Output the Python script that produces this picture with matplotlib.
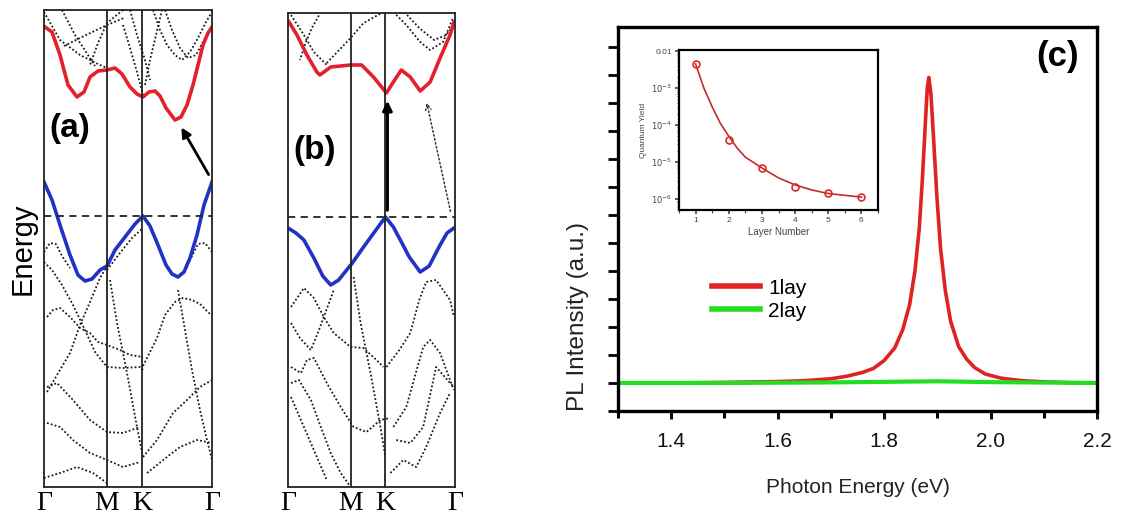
import matplotlib.pyplot as plt
from matplotlib.ticker import MultipleLocator, FixedLocator, NullFormatter, LogLocator

plt.rcParams['font.family'] = ['Liberation Sans', 'DejaVu Sans']

# k-path: Gamma, M, K, Gamma (arbitrary path units)
kpts = [0, 63, 98, 168]
klabels = ['Γ', 'M', 'K', 'Γ']

# ---------- (a) bulk band structure (energy in arb. units, VBM = 0)
ka_cb = [1, 8, 16, 24, 33, 40, 46, 54, 63, 71, 78, 86, 93, 99, 105, 111, 116, 122, 131, 137, 143, 149, 154, 159, 164, 168]
Ea_cb = [189, 184, 161, 131, 119, 124, 139, 145, 146, 148, 142, 129, 122, 119, 124, 125, 120, 108, 96, 99, 111, 131, 151, 171, 183, 189]
ka_vb = [0, 8, 16, 26, 34, 41, 48, 56, 63, 71, 81, 91, 99, 106, 114, 122, 128, 134, 140, 146, 153, 160, 168]
Ea_vb = [34, 16, -9, -39, -59, -65, -63, -54, -50, -34, -21, -8, 0, -10, -29, -49, -58, -61, -56, -42, -19, 11, 34]
dots_a = [
    ([0, 16, 36, 56, 63], [204, 176, 161, 151, 148]),
    ([18, 31, 44, 51], [206, 181, 161, 150]),
    ([79, 63, 54, 46], [206, 193, 173, 151]),
    ([79, 86, 93, 99], [191, 168, 144, 121]),
    ([20, 40, 63, 80], [170, 180, 191, 198]),
    ([109, 116, 123, 131, 138, 146, 154, 162, 168], [206, 186, 171, 161, 156, 164, 178, 194, 204]),
    ([101, 106, 112, 118], [131, 156, 181, 206]),
    ([121, 128, 136, 144, 152, 160, 168], [206, 186, 168, 158, 161, 176, 188]),
    ([86, 93, 101, 106], [206, 181, 156, 136]),
    ([0, 6, 12, 18, 26], [-36, -27, -28, -40, -52]),
    ([168, 161, 154, 148, 142], [-36, -27, -28, -40, -52]),
    ([63, 76, 88, 99], [-54, -37, -22, -12]),
    ([3, 9, 16, 26, 36, 46, 54, 63, 76, 86, 99], [-101, -94, -92, -101, -112, -117, -126, -129, -134, -139, -141]),
    ([99, 106, 113, 121, 131, 139, 148, 156, 168], [-150, -136, -122, -99, -86, -82, -84, -88, -100]),
    ([3, 16, 26, 36, 46, 56, 63], [-176, -154, -137, -109, -86, -62, -50]),
    ([0, 8, 18, 29, 41, 51, 63, 79, 96, 99], [-46, -54, -69, -89, -114, -136, -151, -152, -151, -154]),
    ([3, 13, 29, 46, 63, 79, 96], [-171, -167, -184, -204, -216, -217, -211]),
    ([66, 73, 83, 93, 99], [-64, -107, -157, -211, -241]),
    ([99, 113, 129, 143, 156, 168], [-241, -224, -197, -184, -171, -164]),
    ([3, 16, 29, 46, 63, 79, 96], [-207, -211, -224, -237, -244, -251, -246]),
    ([0, 16, 33, 49, 63], [-262, -257, -251, -257, -267]),
    ([103, 123, 136, 153, 168], [-257, -241, -231, -224, -227]),
    ([134, 141, 148, 156, 163, 168], [-74, -114, -154, -194, -224, -244]),
]

# ---------- (b) monolayer band structure
kb_cb = [1, 9, 19, 29, 32, 43, 63, 74, 86, 99, 106, 114, 123, 133, 143, 153, 163, 167]
Eb_cb = [195, 182, 162, 145, 142, 150, 152, 152, 140, 124, 135, 147, 140, 126, 135, 159, 182, 195]
kb_vb = [0, 8, 16, 26, 35, 43, 51, 59, 64, 76, 87, 98, 106, 113, 122, 133, 142, 153, 160, 167]
Eb_vb = [-11, -16, -23, -41, -59, -68, -63, -53, -47, -30, -15, 0, -10, -23, -40, -55, -49, -28, -16, -11]
dots_b = [
    ([3, 16, 26, 39], [202, 182, 165, 152]),
    ([33, 24, 18, 12], [205, 189, 175, 157]),
    ([39, 63, 76, 96], [154, 179, 194, 205]),
    ([106, 119, 133, 143, 156, 166], [205, 192, 175, 167, 175, 199]),
    ([117, 132, 147, 159, 167], [205, 189, 177, 182, 192]),
    ([3, 16, 26, 36, 46, 63, 76, 89, 96], [-90, -71, -81, -100, -116, -130, -131, -143, -150]),
    ([3, 12, 23, 30, 36, 46], [-106, -121, -133, -116, -100, -73]),
    ([3, 13, 19, 26, 39, 53, 66, 79, 93, 103], [-150, -156, -143, -141, -166, -190, -210, -215, -203, -201]),
    ([3, 11, 23, 33, 43, 53, 63], [-166, -163, -183, -210, -236, -256, -270]),
    ([3, 16, 29, 39], [-180, -210, -240, -263]),
    ([66, 73, 83, 93, 98], [-60, -106, -156, -210, -240]),
    ([99, 112, 123, 132, 139, 149, 163, 167], [-150, -133, -116, -83, -65, -63, -83, -100]),
    ([106, 119, 128, 136, 143, 153, 163, 167], [-210, -190, -158, -130, -123, -136, -163, -173]),
    ([109, 123, 136, 149, 163, 167], [-223, -226, -210, -150, -166, -170]),
    ([103, 116, 129, 139, 153, 163], [-256, -243, -250, -230, -196, -176]),
]

# ---------- (c) PL spectra
pl1_x = [1.30, 1.40, 1.50, 1.60, 1.65, 1.70, 1.73, 1.76, 1.78, 1.80, 1.82, 1.835, 1.848, 1.858, 1.866,
         1.872, 1.877, 1.881, 1.884, 1.888, 1.893, 1.899, 1.906, 1.915, 1.925, 1.94, 1.955, 1.97,
         1.99, 2.02, 2.06, 2.10, 2.15, 2.20]
pl1_y = [0.0, 0.0, 0.02, 0.05, 0.08, 0.15, 0.24, 0.38, 0.52, 0.8, 1.25, 1.9, 2.8, 4.0, 5.5,
         7.3, 9.1, 10.5, 10.9, 10.3, 8.7, 6.7, 4.8, 3.3, 2.2, 1.3, 0.85, 0.55,
         0.32, 0.17, 0.08, 0.04, 0.01, 0.0]
pl2_x = [1.30, 1.50, 1.70, 1.85, 1.90, 2.00, 2.20]
pl2_y = [0.0, 0.0, 0.02, 0.05, 0.06, 0.03, 0.0]

# inset: quantum yield vs layer number
layers = [1, 2, 3, 4, 5, 6]
qy = [4.5e-3, 3.9e-5, 6.9e-6, 2.1e-6, 1.45e-6, 1.1e-6]
fit_x = [1, 1.25, 1.5, 1.75, 2, 2.25, 2.5, 3, 3.5, 4, 4.5, 5, 5.5, 6]
fit_y = [4.5e-3, 1.0e-3, 3.1e-4, 1.1e-4, 5.0e-5, 2.4e-5, 1.35e-5, 6.9e-6, 3.7e-6, 2.4e-6,
         1.75e-6, 1.4e-6, 1.25e-6, 1.12e-6]

fig = plt.figure(figsize=(11.23, 5.19), dpi=100)
W, H = 1123, 519


def band_panel(rect, ylim, cb, vb, dots):
    ax = fig.add_axes(rect)
    for k, E in dots:
        ax.plot(k, E, color='#1a1a1a', lw=1.3, ls=(0, (1, 1.2)))
    ax.plot(*cb, color='#e3202b', lw=2.6, solid_joinstyle='round')
    ax.plot(*vb, color='#2233c4', lw=2.6, solid_joinstyle='round')
    ax.axhline(0, color='#222', lw=1.3, ls=(0, (4, 3)))
    for k in kpts[1:3]:
        ax.axvline(k, color='#222', lw=1.3)
    ax.set_xlim(0, 168)
    ax.set_ylim(ylim)
    ax.set_xticks(kpts)
    ax.set_xticklabels(klabels, fontfamily='Liberation Serif', fontsize=20)
    ax.tick_params(length=0, pad=3)
    ax.set_yticks([])
    for s in ax.spines.values():
        s.set_linewidth(1.3)
        s.set_color('#222')
    return ax


ax_a = band_panel([44 / W, 1 - 487 / H, 168 / W, 477 / H], (-271, 206), (ka_cb, Ea_cb), (ka_vb, Ea_vb), dots_a)
ax_a.set_ylabel('Energy', fontsize=21, labelpad=5)
ax_a.annotate('', xy=(136, 91), xytext=(166, 39),
              arrowprops=dict(arrowstyle='-|>', color='k', lw=2, mutation_scale=14))
fig.text(70 / W, 1 - 129 / H, '(a)', fontsize=24, fontweight='bold', ha='center', va='center')

ax_b = band_panel([288 / W, 1 - 487 / H, 167 / W, 474 / H], (-270, 204), (kb_cb, Eb_cb), (kb_vb, Eb_vb), dots_b)
ax_b.annotate('', xy=(100, 119), xytext=(100, 4),
              arrowprops=dict(arrowstyle='-|>', color='k', lw=2.2, mutation_scale=14))
ax_b.annotate('', xy=(139, 117), xytext=(164, 3),
              arrowprops=dict(arrowstyle='->', color='#333', lw=1.1, ls=':', mutation_scale=10))
fig.text(315 / W, 1 - 151 / H, '(b)', fontsize=24, fontweight='bold', ha='center', va='center')

# ---------- (c)
ax = fig.add_axes([618 / W, 1 - 411 / H, 479 / W, 384 / H])
ax.plot(pl1_x, pl1_y, color='#e02222', lw=2.6, label='1lay')
ax.plot(pl2_x, pl2_y, color='#22dd22', lw=3, label='2lay')
ax.set_xlim(1.3, 2.2)
ax.set_ylim(-1, 12.7)
ax.xaxis.set_major_locator(MultipleLocator(0.2))
ax.xaxis.set_minor_locator(MultipleLocator(0.1))
ax.xaxis.set_major_formatter(lambda v, p: f'{v:.1f}')
ax.yaxis.set_major_locator(MultipleLocator(1))
ax.yaxis.set_major_formatter(NullFormatter())
ax.tick_params(axis='x', which='major', direction='out', length=6, width=2.2, labelsize=15, pad=9, colors='#111')
ax.tick_params(axis='x', which='minor', direction='out', length=5, width=2.2)
ax.tick_params(axis='y', which='major', direction='out', length=7, width=2.0)
for s in ax.spines.values():
    s.set_linewidth(2.4)
ax.set_xlabel('Photon Energy (eV)', fontsize=15, color='#222')
ax.xaxis.label.set_va('center')
ax.xaxis.set_label_coords(0.5, -0.198)
ax.set_ylabel('PL Intensity (a.u.)', fontsize=17.5, color='#222')
ax.yaxis.label.set_va('center')
ax.yaxis.set_label_coords(-0.0835, 0.247)
leg = ax.legend(loc='upper left', bbox_to_anchor=(0.196, 0.345), frameon=False, fontsize=15,
                handlelength=2.3, handletextpad=0.4, labelspacing=0.2, borderpad=0, borderaxespad=0)
for ln in leg.get_lines():
    ln.set_linewidth(4)
ax.text(0.918, 0.922, '(c)', transform=ax.transAxes, fontsize=25, fontweight='bold', ha='center', va='center')

# inset
ins = fig.add_axes([679 / W, 1 - 210 / H, 199 / W, 160 / H])
ins.plot(fit_x, fit_y, color='#c42a2a', lw=1.2)
ins.plot(layers, qy, 'o', mfc='none', mec='#e02a2a', mew=1.2, ms=5)
ins.set_yscale('log')
ins.set_xlim(0.5, 6.5)
ins.set_ylim(10 ** -6.3, 10 ** -1.97)
ins.yaxis.set_major_locator(FixedLocator([1e-2, 1e-3, 1e-4, 1e-5, 1e-6]))
ins.set_yticklabels(['0.01', '$10^{-3}$', '$10^{-4}$', '$10^{-5}$', '$10^{-6}$'])
ins.yaxis.set_minor_locator(LogLocator(base=10, subs=range(2, 10)))
ins.yaxis.set_minor_formatter(NullFormatter())
ins.set_xticks(layers)
ins.xaxis.set_minor_locator(MultipleLocator(0.5))
ins.tick_params(which='major', direction='out', length=3, width=1.2, labelsize=6, colors='#444', pad=2)
ins.tick_params(which='minor', direction='out', length=1.8, width=0.8, colors='#444')
for s in ins.spines.values():
    s.set_linewidth(1.6)
ins.set_xlabel('Layer Number', fontsize=7, color='#444', labelpad=2)
ins.set_ylabel('Quantum Yield', fontsize=6, color='#444', labelpad=3)

fig.savefig('out.png', dpi=100)
